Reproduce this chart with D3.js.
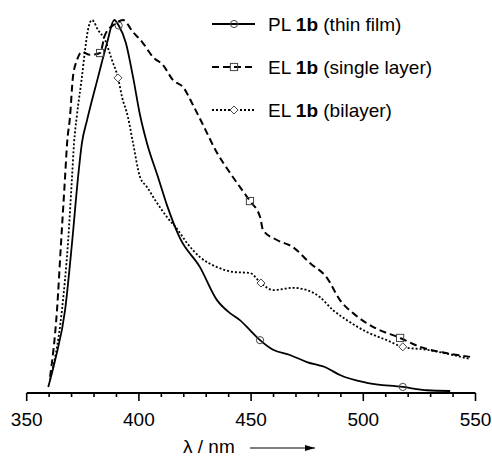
<!DOCTYPE html>
<html>
<head>
<meta charset="utf-8">
<script src="https://cdn.jsdelivr.net/npm/d3@7"></script>
<style>
body{margin:0;background:#fff;}
text{font-family:"Liberation Sans",Arial,sans-serif;fill:#000;}
</style>
</head>
<body>
<div id="chart"></div>
<script>
// PL thin film (solid)
var plWl  = [359.6,362.7,367.1,370.2,372.9,374.6,376.9,381.8,385.8,389,391,394.2,397.4,400.5,403.6,408.5,412.5,418.3,427.2,434.8,440.6,445,449.5,454,459.8,467.3,474.9,483.8,489.6,501.6,517.6,528.4,538.7];
var plVal = [0.011,0.084,0.218,0.399,0.577,0.668,0.73,0.846,0.938,1.0,0.985,0.938,0.846,0.744,0.668,0.577,0.501,0.412,0.334,0.245,0.21,0.191,0.164,0.137,0.111,0.097,0.078,0.062,0.043,0.022,0.011,0.002,0.0];
// EL single layer (dashed)
var slWl  = [360.4,363.5,365.3,367.1,368,369.3,370.6,372.4,374.6,378.2,382.7,384.9,389.3,392.9,397.3,401.8,406.3,410.7,415.2,419.7,424.1,428.6,434.8,440.6,445,449.5,454,455.3,461.5,468.6,476.2,483.8,489.6,495.4,504.3,516.4,525.3,537.3,547.6];
var slVal = [0.038,0.218,0.399,0.577,0.668,0.739,0.846,0.892,0.914,0.906,0.911,0.96,0.989,1.0,0.968,0.938,0.9,0.879,0.838,0.819,0.771,0.717,0.642,0.588,0.55,0.512,0.469,0.434,0.407,0.388,0.345,0.305,0.245,0.21,0.173,0.143,0.119,0.102,0.092];
// EL bilayer (dotted)
var blWl  = [360.4,365.7,368.4,370.2,371.1,372.4,374.6,376,377.3,379.1,381.8,384.9,388,390.7,392.5,395.1,397.4,400.5,403.6,407.2,412.5,417.4,421.4,427.2,434.8,442,449.5,454.4,459.8,468.6,474.9,480.7,486.5,492.7,501.6,510.5,517.6,528.4,540,547.6];
var blVal = [0.03,0.218,0.399,0.577,0.668,0.744,0.846,0.919,0.973,1.0,0.973,0.946,0.892,0.844,0.792,0.739,0.668,0.577,0.55,0.515,0.469,0.434,0.399,0.361,0.334,0.321,0.318,0.291,0.272,0.278,0.272,0.253,0.218,0.191,0.159,0.137,0.119,0.111,0.097,0.086];

// marker positions (wavelengths)
var plMarks = [391,454,517.6];
var slMarks = [382.7,449.5,516.4];
var blMarks = [390.7,454.4,517.6];

var xTicks = [350,400,450,500,550];
var legendNames = ["PL", "EL", "EL"];
var legendNotes = [" (thin film)", " (single layer)", " (bilayer)"];

var W = 492, H = 457;
var svg = d3.select("#chart").append("svg").attr("width",W).attr("height",H);

var x = d3.scaleLinear().domain([350,550]).range([26.7,475.5]);
var y = d3.scaleLinear().domain([0,1]).range([391,20]);

var series = [
  {wl:plWl, v:plVal, marks:plMarks, dash:null, w:1.8, shape:"circle"},
  {wl:slWl, v:slVal, marks:slMarks, dash:"7,4", w:2, shape:"square"},
  {wl:blWl, v:blVal, marks:blMarks, dash:"2,2", w:1.8, shape:"diamond"}
];

var line = d3.line().curve(d3.curveMonotoneX)
  .x(function(d){return x(d[0]);}).y(function(d){return y(d[1]);});

function interp(s, w){
  for(var i=1;i<s.wl.length;i++){
    if(s.wl[i]>=w){
      var t=(w-s.wl[i-1])/(s.wl[i]-s.wl[i-1]);
      return s.v[i-1]+t*(s.v[i]-s.v[i-1]);
    }
  }
  return s.v[s.v.length-1];
}

function marker(g, shape, cx, cy){
  if(shape=="circle"){
    g.append("circle").attr("cx",cx).attr("cy",cy).attr("r",3.6)
      .attr("fill","none").attr("stroke","#444").attr("stroke-width",1);
  }else if(shape=="square"){
    g.append("rect").attr("x",cx-3.6).attr("y",cy-3.6).attr("width",7.2).attr("height",7.2)
      .attr("fill","none").attr("stroke","#444").attr("stroke-width",1);
  }else{
    g.append("path").attr("d","M"+cx+","+(cy-4)+"L"+(cx+4)+","+cy+"L"+cx+","+(cy+4)+"L"+(cx-4)+","+cy+"Z")
      .attr("fill","#fff").attr("stroke","#444").attr("stroke-width",1);
  }
}

series.forEach(function(s){
  var pts = s.wl.map(function(w,i){return [w,s.v[i]];});
  svg.append("path").datum(pts).attr("d",line)
    .attr("fill","none").attr("stroke","#000").attr("stroke-width",s.w)
    .attr("stroke-dasharray",s.dash).attr("stroke-linejoin","round");
  s.marks.forEach(function(w){
    marker(svg, s.shape, x(w), y(interp(s,w)));
  });
});

// x axis, ticks pointing down
var axisG = svg.append("g").attr("transform","translate(0,393)");
axisG.append("line").attr("x1",x(350)).attr("x2",x(550)).attr("stroke","#000").attr("stroke-width",2);
d3.range(350,551,10).forEach(function(t){
  var major = (t%50==0);
  axisG.append("line").attr("x1",x(t)).attr("x2",x(t)).attr("y1",0).attr("y2",major?8:4)
    .attr("stroke","#000").attr("stroke-width",1.6);
});
axisG.selectAll("text.tick").data(xTicks).enter().append("text")
  .attr("class","tick").attr("x",function(d){return x(d);}).attr("y",33)
  .attr("text-anchor","middle").style("font-size","19px").text(function(d){return d;});

// axis title with arrow
var title = svg.append("text").attr("x",183).attr("y",453).style("font-size","19px");
title.append("tspan").text("λ / nm");
svg.append("defs").append("marker").attr("id","arr").attr("viewBox","0 0 10 6")
  .attr("refX",10).attr("refY",3).attr("markerWidth",10).attr("markerHeight",6)
  .attr("markerUnits","userSpaceOnUse").attr("orient","auto")
  .append("path").attr("d","M0,0L10,3L0,6Z").attr("fill","#000");
svg.append("line").attr("x1",250).attr("x2",315).attr("y1",448).attr("y2",448)
  .attr("stroke","#000").attr("stroke-width",1).attr("marker-end","url(#arr)");

// legend
var rows = [24,67,110];
series.forEach(function(s,i){
  var g = svg.append("g");
  g.append("line").attr("x1",212).attr("x2",255).attr("y1",rows[i]).attr("y2",rows[i])
    .attr("stroke","#000").attr("stroke-width",s.w).attr("stroke-dasharray",s.dash);
  marker(g, s.shape, 234, rows[i]);
  var t = g.append("text").attr("x",268).attr("y",rows[i]+7).style("font-size","19px");
  t.append("tspan").text(legendNames[i]+" ");
  t.append("tspan").style("font-weight","bold").text("1b");
  t.append("tspan").text(legendNotes[i]);
});
</script>
</body>
</html>
